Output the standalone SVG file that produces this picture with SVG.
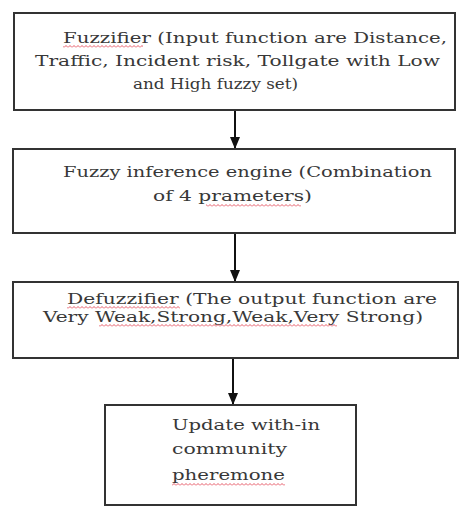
<svg xmlns="http://www.w3.org/2000/svg" width="460" height="506" viewBox="0 0 460 506">
<style>
.box{fill:#fff;stroke:#333;stroke-width:2}
.t{font-family:"DejaVu Serif","Liberation Serif",serif;font-size:15.5px;fill:#383838}
.c{stroke:#111;stroke-width:2;fill:none}
</style>
<defs>
<marker id="ah" viewBox="0 0 12 10" refX="12" refY="5" markerWidth="12" markerHeight="10" markerUnits="userSpaceOnUse" orient="auto">
<path d="M0,0 L12,5 L0,10 Z" fill="#111"/>
</marker>
<pattern id="wave" patternUnits="userSpaceOnUse" width="4" height="3">
<path d="M0,2.5 L2,0.5 L4,2.5" fill="none" stroke="#e03040" stroke-width="0.8"/>
</pattern>
</defs>
<rect width="460" height="506" fill="#fff"/>
<g id="connectors">
<line class="c" x1="235" y1="110" x2="235" y2="149" marker-end="url(#ah)"/>
<line class="c" x1="235" y1="233" x2="235" y2="282" marker-end="url(#ah)"/>
<line class="c" x1="233" y1="358" x2="233" y2="405" marker-end="url(#ah)"/>
</g>
<g id="fuzzifier">
<rect class="box" x="14" y="13" width="441" height="97"/>
<text class="t" x="63" y="43" textLength="384" lengthAdjust="spacingAndGlyphs">Fuzzifier (Input function are Distance,</text>
<text class="t" x="35" y="66" textLength="405" lengthAdjust="spacingAndGlyphs">Traffic, Incident risk, Tollgate with Low</text>
<text class="t" x="133" y="89" textLength="165" lengthAdjust="spacingAndGlyphs">and High fuzzy set)</text>
<rect x="63" y="45" width="80" height="3" fill="url(#wave)"/>
</g>
<g id="inference">
<rect class="box" x="13" y="149" width="442" height="84"/>
<text class="t" x="63" y="177" textLength="369" lengthAdjust="spacingAndGlyphs">Fuzzy inference engine (Combination</text>
<text class="t" x="153" y="201" textLength="159" lengthAdjust="spacingAndGlyphs">of 4 prameters)</text>
<rect x="206" y="204" width="95" height="3" fill="url(#wave)"/>
</g>
<g id="defuzzifier">
<rect class="box" x="13" y="282" width="445" height="76"/>
<text class="t" x="67" y="304" textLength="370" lengthAdjust="spacingAndGlyphs">Defuzzifier (The output function are</text>
<text class="t" x="43" y="322" textLength="380" lengthAdjust="spacingAndGlyphs">Very Weak,Strong,Weak,Very Strong)</text>
<rect x="67" y="306" width="113" height="3" fill="url(#wave)"/>
<rect x="99" y="324" width="238" height="3" fill="url(#wave)"/>
</g>
<g id="update">
<rect class="box" x="105" y="405" width="251" height="100"/>
<text class="t" x="172" y="430" textLength="148" lengthAdjust="spacingAndGlyphs">Update with-in</text>
<text class="t" x="172" y="454" textLength="115" lengthAdjust="spacingAndGlyphs">community</text>
<text class="t" x="172" y="480" textLength="113" lengthAdjust="spacingAndGlyphs">pheremone</text>
<rect x="172" y="483" width="113" height="3" fill="url(#wave)"/>
</g>
</svg>
